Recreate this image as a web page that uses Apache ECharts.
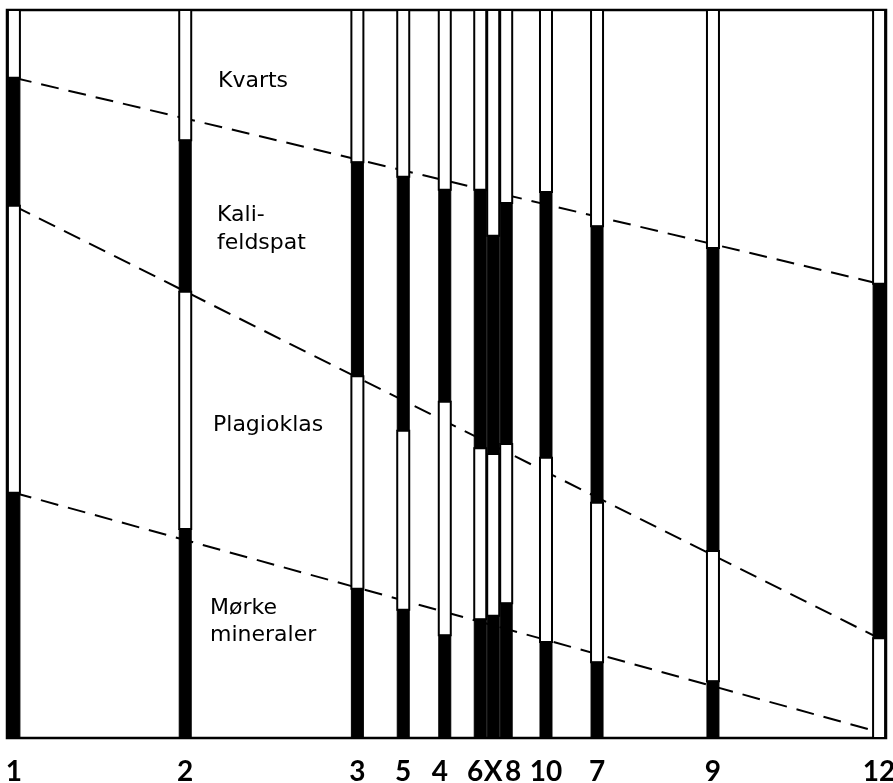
<!DOCTYPE html>
<html>
<head>
<meta charset="utf-8">
<script src="https://cdn.jsdelivr.net/npm/echarts@6/dist/echarts.min.js"></script>
<style>
  html, body { margin: 0; padding: 0; background: #fff; }
  #chart { width: 893px; height: 783px; }
</style>
</head>
<body>
<div id="chart"></div>
<script>
// prøver langs profilet (rekkefølge venstre -> høyre)
var samples = ['1', '2', '3', '5', '4', '6', 'X', '8', '10', '7', '9', '12'];
// plassering langs profilet (relativ avstand 0-100)
var positions = [0, 19.8, 39.7, 45.0, 49.8, 53.9, 55.4, 56.9, 61.5, 67.4, 80.8, 100];

// volumprosent, lest av søylene (fra toppen)
var kvarts    = [9.3, 17.9, 20.9, 22.9, 24.7, 24.7, 31.0, 26.5, 25.0, 29.7, 32.7, 37.6];
var kalifelt  = [17.6, 20.8, 29.4, 34.9, 29.1, 35.5, 30.0, 33.1, 36.5, 38.0, 41.6, 48.7];
var plagio    = [39.4, 32.6, 29.2, 24.6, 32.1, 23.5, 22.2, 21.9, 25.3, 21.9, 17.9, 13.7];
var morke     = [33.7, 28.7, 20.5, 17.6, 14.1, 16.3, 16.8, 18.5, 13.2, 10.4, 7.8, 0];

// trendlinjer (kumulativ grense ved prøve 1 og prøve 12)
var trendKvarts = [9.3, 37.6];
var trendKali   = [26.9, 86.3];
var trendPlag   = [66.3, 99.2];

// segmenter: [posisjon, fra, til, svart?]
var minerals = [kvarts, kalifelt, plagio, morke];
var segments = [];
positions.forEach(function (p, i) {
  var acc = 0;
  minerals.forEach(function (m, k) {
    segments.push([p, acc, acc + m[i], k % 2]);
    acc += m[i];
  });
});

function trend(ends) {
  return [[positions[0], ends[0]], [positions[positions.length - 1], ends[1]]];
}

var dash = { color: '#000', width: 2, type: [18, 10] };
var txtFont = '22px "DejaVu Sans"';
var BAR_W = 12;

function renderSeg(params, api) {
  var a = api.coord([api.value(0), api.value(1)]);
  var b = api.coord([api.value(0), api.value(2)]);
  var h = b[1] - a[1];
  if (h <= 0) return null;
  var black = api.value(3) === 1;
  return {
    type: 'rect',
    shape: { x: a[0] - BAR_W / 2, y: a[1], width: BAR_W, height: h },
    style: {
      fill: black ? '#000' : '#fff',
      stroke: '#000',
      lineWidth: black ? 1 : 2
    }
  };
}

var chart = echarts.init(document.getElementById('chart'));
chart.setOption({
  animation: false,
  backgroundColor: '#fff',
  grid: {
    left: 7, right: 7, top: 10, bottom: 45,
    outerBoundsMode: 'none',
    show: true, borderColor: '#000', borderWidth: 2.5
  },
  xAxis: {
    type: 'value',
    min: -0.8,
    max: 100.8,
    splitLine: { show: false },
    axisLine: { show: false },
    axisTick: { show: false },
    axisLabel: {
      customValues: positions,
      margin: 20,
      color: '#000',
      fontFamily: 'Lato',
      fontWeight: 'bold',
      fontSize: 28,
      formatter: function (v) {
        var n = samples[positions.indexOf(v)];
        if (n === '6' || n === '4') return '{l|' + n + '}';
        if (n === '8') return '{r|' + n + '}';
        return n;
      },
      rich: {
        l: { fontFamily: 'Lato', fontWeight: 'bold', fontSize: 28, color: '#000', padding: [0, 10, 0, 0] },
        r: { fontFamily: 'Lato', fontWeight: 'bold', fontSize: 28, color: '#000', padding: [0, 0, 0, 14] }
      }
    }
  },
  yAxis: {
    type: 'value',
    inverse: true,
    min: 0,
    max: 100,
    show: false
  },
  series: [
    { type: 'line', data: trend(trendKvarts), symbol: 'none', lineStyle: dash, z: 1, silent: true },
    { type: 'line', data: trend(trendKali), symbol: 'none', lineStyle: dash, z: 1, silent: true },
    { type: 'line', data: trend(trendPlag), symbol: 'none', lineStyle: dash, z: 1, silent: true },
    {
      type: 'custom',
      renderItem: renderSeg,
      data: segments,
      encode: { x: 0, y: [1, 2] },
      clip: false,
      z: 3
    }
  ],
  graphic: [
    { type: 'text', x: 218, y: 81, style: { text: 'Kvarts', font: txtFont, fill: '#000', verticalAlign: 'middle' } },
    { type: 'text', x: 217, y: 215, style: { text: 'Kali-', font: txtFont, fill: '#000', verticalAlign: 'middle' } },
    { type: 'text', x: 217, y: 243, style: { text: 'feldspat', font: txtFont, fill: '#000', verticalAlign: 'middle' } },
    { type: 'text', x: 213, y: 425, style: { text: 'Plagioklas', font: txtFont, fill: '#000', verticalAlign: 'middle' } },
    { type: 'text', x: 210, y: 608, style: { text: 'Mørke', font: txtFont, fill: '#000', verticalAlign: 'middle' } },
    { type: 'text', x: 210, y: 635, style: { text: 'mineraler', font: txtFont, fill: '#000', verticalAlign: 'middle' } }
  ]
});
</script>
</body>
</html>
